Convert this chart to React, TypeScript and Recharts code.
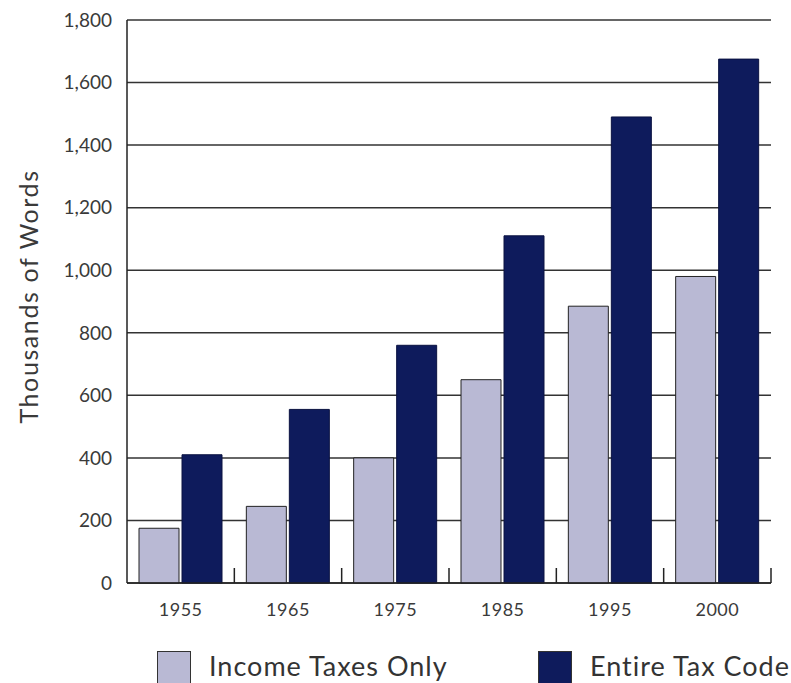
import React from 'react';
import { BarChart, Bar, XAxis, YAxis, CartesianGrid, Legend } from 'recharts';

const years = ['1955', '1965', '1975', '1985', '1995', '2000'];
const incomeTaxesOnly = [175, 245, 400, 650, 885, 980];
const entireTaxCode = [410, 555, 760, 1110, 1490, 1675];
const yTicks = [0, 200, 400, 600, 800, 1000, 1200, 1400, 1600, 1800];
const seriesNames = ['Income Taxes Only', 'Entire Tax Code'];
const seriesColors = ['#b9b9d4', '#0e1b5c'];

const data = years.map((y, i) => ({ year: y, income: incomeTaxesOnly[i], entire: entireTaxCode[i] }));

const FONT = 'Lato, "DejaVu Sans", sans-serif';

const XTick = (props: any) => {
  const { x, y, payload, width, visibleTicksCount } = props;
  const bw = (width || 644) / (visibleTicksCount || 6);
  const axisY = y - 20;
  const bx = x + bw / 2;
  return (
    <g>
      <line x1={bx} x2={bx} y1={axisY - 15} y2={axisY} stroke="#222" strokeWidth={1.5} />
      <text x={x} y={y} dy={13} textAnchor="middle" fill="#3a3a3a" fontSize={18} fontFamily={FONT} letterSpacing={0.5}>
        {payload.value}
      </text>
    </g>
  );
};

const YLabel = (props: any) => {
  const vb = props.viewBox || { x: 0, y: 20, width: 127, height: 563 };
  const cx = 28;
  const cy = vb.y + vb.height / 2 - 5;
  return (
    <text x={cx} y={cy} transform={`rotate(-90, ${cx}, ${cy})`} textAnchor="middle" dominantBaseline="central" fill="#3a3a3a" fontSize={25} fontFamily={FONT} letterSpacing={1.6}>
      Thousands of Words
    </text>
  );
};

const LegendContent = () => (
  <div style={{ position: 'relative', width: 791, height: 40, fontFamily: FONT }}>
    {seriesNames.map((n, i) => (
      <div key={n} style={{ position: 'absolute', left: i === 0 ? 157 : 538, top: 0, display: 'flex', alignItems: 'flex-start' }}>
        <div style={{ width: 34, height: 34, background: seriesColors[i], border: '1px solid #333', boxSizing: 'border-box' }} />
        <span style={{ marginLeft: 18, fontSize: 27, color: '#333', lineHeight: '30px', letterSpacing: 1 }}>{n}</span>
      </div>
    ))}
  </div>
);

export default function App() {
  return (
    <div style={{ position: 'absolute', left: 0, top: 0, width: 791, height: 683, background: '#fff' }}>
      <BarChart
        width={791}
        height={683}
        data={data}
        margin={{ top: 20, right: 20, left: 0, bottom: 70 }}
        barCategoryGap={12}
        barGap={3}
      >
        <CartesianGrid vertical={false} stroke="#333" strokeWidth={1.5} />
        <XAxis
          dataKey="year"
          height={30}
          tickLine={false}
          tickSize={6}
          tickMargin={14}
          axisLine={{ stroke: '#222', strokeWidth: 1.5 }}
          tick={<XTick />}
          interval={0}
        />
        <YAxis
          width={127}
          domain={[0, 1800]}
          ticks={yTicks}
          tickFormatter={(v: number) => v.toLocaleString('en-US')}
          tickLine={false}
          tickSize={6}
          tickMargin={9}
          axisLine={{ stroke: '#222', strokeWidth: 1.5 }}
          tick={{ fill: '#3a3a3a', fontSize: 19, fontFamily: FONT }}
          label={<YLabel />}
        />
        <Legend
          layout="horizontal"
          verticalAlign="middle"
          align="center"
          wrapperStyle={{ left: 0, top: 651, width: 791 }}
          content={<LegendContent />}
        />
        <Bar dataKey="income" name={seriesNames[0]} fill={seriesColors[0]} stroke="#222" strokeWidth={1} isAnimationActive={false} />
        <Bar dataKey="entire" name={seriesNames[1]} fill={seriesColors[1]} stroke="#0a1240" strokeWidth={1} isAnimationActive={false} />
      </BarChart>
    </div>
  );
}
